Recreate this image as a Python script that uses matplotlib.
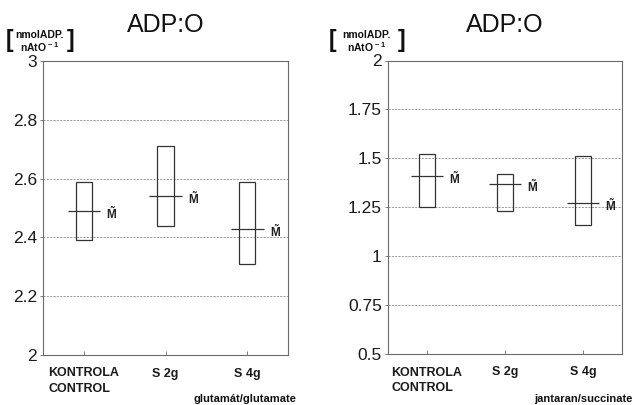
import matplotlib
matplotlib.use("Agg")
import matplotlib.pyplot as plt

plt.rcParams['font.family'] = ['Liberation Sans', 'DejaVu Sans']
plt.rcParams['mathtext.fontset'] = 'custom'
plt.rcParams['mathtext.rm'] = 'Liberation Sans:bold'
plt.rcParams['mathtext.bf'] = 'Liberation Sans:bold'
plt.rcParams['mathtext.it'] = 'Liberation Sans:bold'

# ---- data ----
categories = ["KONTROLA\nCONTROL", "S 2g", "S 4g"]

glu_top = [2.59, 2.71, 2.59]
glu_bottom = [2.39, 2.44, 2.31]
glu_median = [2.49, 2.54, 2.43]

suc_top = [1.52, 1.42, 1.51]
suc_bottom = [1.25, 1.23, 1.16]
suc_median = [1.41, 1.37, 1.27]

glu_yticks = [2, 2.2, 2.4, 2.6, 2.8, 3]
glu_yticklabels = ["2", "2.2", "2.4", "2.6", "2.8", "3"]
suc_yticks = [0.5, 0.75, 1, 1.25, 1.5, 1.75, 2]
suc_yticklabels = ["0.5", "0.75", "1", "1.25", "1.5", "1.75", "2"]

title = "ADP:O"
median_label = r"$\mathbf{\tilde{M}}$"
unit_text = "nmolADP.\n" + r"nAtO$^{\,-1}$"
glu_note = "glutamát/glutamate"
suc_note = "jantaran/succinate"

W, H = 635, 405
fig = plt.figure(figsize=(W / 100, H / 100), dpi=100)

def fx(px):
    return px / W

def fy(py):
    return 1 - py / H

ax1 = fig.add_axes([fx(43), fy(355), fx(288) - fx(43), fy(61) - fy(355)])
ax2 = fig.add_axes([fx(388), fy(354), fx(622) - fx(388), fy(60.5) - fy(354)])

box_color = "#333333"
spine_color = "#6a6a6a"


def draw_panel(ax, tops, bottoms, medians, yticks, ylabels, ylim):
    xs = list(range(1, len(categories) + 1))
    heights = [t - b for t, b in zip(tops, bottoms)]
    ax.bar(xs, heights, bottom=bottoms, width=0.2, fill=False,
           edgecolor=box_color, linewidth=0.9, zorder=3)
    for x, m in zip(xs, medians):
        ax.hlines(m, x - 0.2, x + 0.2, color=box_color, linewidth=0.9, zorder=4)
        ax.annotate(median_label, xy=(x + 0.2, m), xytext=(4.5, -2),
                    textcoords="offset points", ha="left", va="center",
                    fontsize=8.5, color="#222222")
    ax.set_xlim(0.5, 3.5)
    ax.set_ylim(*ylim)
    ax.set_yticks(yticks)
    ax.set_yticklabels(ylabels, fontsize=12.5, color="#1a1a1a")
    ax.set_xticks(xs)
    ax.set_xticklabels(categories, fontsize=9, fontweight="bold",
                       color="#1a1a1a", multialignment="left", linespacing=1.4)
    ax.tick_params(axis="x", direction="in", length=3, width=0.6,
                   color=spine_color, pad=9)
    ax.tick_params(axis="y", direction="out", length=2.5, width=0.6,
                   color=spine_color, pad=2)
    ax.grid(axis="y", linestyle=(0, (2.5, 1.5)), color="#8c8c8c", linewidth=0.6)
    ax.set_axisbelow(True)
    for s in ax.spines.values():
        s.set_color(spine_color)
        s.set_linewidth(0.8)


draw_panel(ax1, glu_top, glu_bottom, glu_median, glu_yticks, glu_yticklabels, (2, 3))
draw_panel(ax2, suc_top, suc_bottom, suc_median, suc_yticks, suc_yticklabels, (0.5, 2))

# titles
fig.text(fx(165.5), fy(32.5), title, ha="center", va="baseline",
         fontsize=18, color="#111111")
fig.text(fx(504.5), fy(32.5), title, ha="center", va="baseline",
         fontsize=18, color="#111111")

# unit labels
def unit_label(x_left, x_right):
    fig.text(fx(x_left), fy(41), "[", ha="left", va="center",
             fontsize=16.5, fontweight="bold", color="#111111")
    fig.text(fx(x_right), fy(41), "]", ha="right", va="center",
             fontsize=16.5, fontweight="bold", color="#111111")
    xc = (x_left + x_right) / 2
    fig.text(fx(xc), fy(42), unit_text, ha="center", va="center",
             fontsize=7.5, fontweight="bold", color="#111111",
             multialignment="center", linespacing=1.05)

unit_label(6, 74)
unit_label(329, 405)

# substrate notes
fig.text(fx(296), fy(402), glu_note, ha="right", va="baseline",
         fontsize=8, fontweight="bold", color="#111111")
fig.text(fx(633), fy(402), suc_note, ha="right", va="baseline",
         fontsize=8, fontweight="bold", color="#111111")

fig.savefig("out.png", dpi=100)
